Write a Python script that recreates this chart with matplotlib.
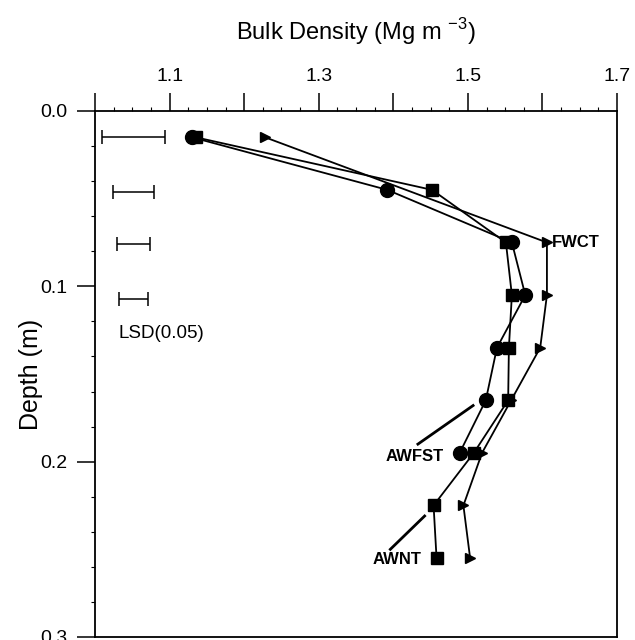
import matplotlib
matplotlib.use("Agg")
import matplotlib.pyplot as plt
import numpy as np

plt.rcParams['font.family'] = ['Liberation Sans', 'DejaVu Sans']

# depths (m)
depth = [0.015, 0.045, 0.075, 0.105, 0.135, 0.165, 0.195, 0.225, 0.255]

# bulk density for each treatment
awnt = [1.135, 1.452, 1.551, 1.559, 1.555, 1.554, 1.508, 1.454, 1.458]
awfst_depth = [0.015, 0.045, 0.075, 0.105, 0.135, 0.165, 0.195]
awfst = [1.130, 1.392, 1.559, 1.577, 1.539, 1.524, 1.489]
fwct_depth = [0.015, 0.075, 0.105, 0.135, 0.165, 0.195, 0.225, 0.255]
fwct = [1.228, 1.606, 1.606, 1.597, 1.558, 1.519, 1.494, 1.503]

# LSD(0.05) bars
lsd_depth = [0.015, 0.046, 0.076, 0.107]
lsd_left = [1.009, 1.024, 1.030, 1.032]
lsd_right = [1.094, 1.079, 1.074, 1.071]

fig = plt.figure(figsize=(6.35, 6.4), dpi=100)
ax = fig.add_axes([0.1496, 0.0047, 0.8221, 0.8219])

# lines and markers
ax.plot(fwct, fwct_depth, color='black', lw=1.3, marker='>', ms=6.5, zorder=3)
ax.plot(awfst, awfst_depth, color='black', lw=1.3, marker='o', ms=10, zorder=4)
ax.plot(awnt, depth, color='black', lw=1.3, marker='s', ms=8.5, zorder=5)

# LSD bars
lsd_left = np.array(lsd_left)
lsd_right = np.array(lsd_right)
center = (lsd_left + lsd_right) / 2
half = (lsd_right - lsd_left) / 2
ax.errorbar(center, lsd_depth, xerr=half, fmt='none', ecolor='black',
            elinewidth=1.1, capsize=5, capthick=1.1)
ax.text(1.032, 0.127, 'LSD(0.05)', fontsize=13.5, va='center', ha='left')

# treatment labels
ax.text(1.613, 0.075, 'FWCT', fontsize=12, fontweight='bold', va='center', ha='left')
ax.text(1.468, 0.197, 'AWFST', fontsize=12, fontweight='bold', va='center', ha='right')
ax.text(1.438, 0.256, 'AWNT', fontsize=12, fontweight='bold', va='center', ha='right')
ax.plot([1.433, 1.507], [0.190, 0.168], color='black', lw=2)
ax.plot([1.396, 1.442], [0.250, 0.231], color='black', lw=2)

# axes
ax.set_xlim(1.0, 1.7)
ax.set_ylim(0.3, 0.0)
ax.xaxis.tick_top()
ax.xaxis.set_label_position('top')
ax.set_xticks(np.arange(1.0, 1.71, 0.1))
ax.set_xticklabels(['', '1.1', '', '1.3', '', '1.5', '', '1.7'])
ax.set_xticks(np.arange(1.0, 1.7, 0.025), minor=True)
ax.set_yticks([0.0, 0.1, 0.2, 0.3])
ax.set_yticklabels(['0.0', '0.1', '0.2', '0.3'])
ax.set_yticks(np.arange(0.0, 0.3, 0.02), minor=True)
ax.tick_params(axis='both', which='major', direction='out', length=13, width=1.1,
               labelsize=14)
ax.tick_params(axis='both', which='minor', direction='out', length=3, width=0.8)
ax.tick_params(axis='x', which='major', pad=6)
ax.tick_params(axis='y', which='major', pad=7)
for s in ax.spines.values():
    s.set_linewidth(1.3)

ax.set_xlabel('Bulk Density (Mg m $^{\\mathregular{-3}}$)', fontsize=17, labelpad=20)
ax.set_ylabel('Depth (m)', fontsize=18, labelpad=-2)

fig.savefig('out.png', dpi=100)
